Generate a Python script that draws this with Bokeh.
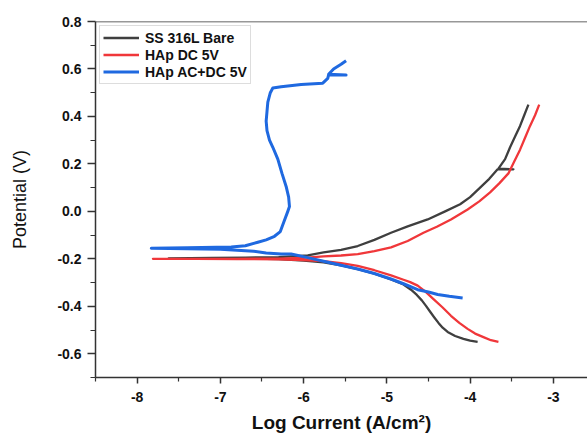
from bokeh.plotting import figure
from bokeh.models import FixedTicker, Span, Range1d
from bokeh.embed import file_html
from bokeh.resources import INLINE

# ---- data (log current, potential) ----
bare_x = [-3.91, -4.00, -4.08, -4.18, -4.27, -4.33, -4.38, -4.43, -4.48, -4.53, -4.58, -4.64, -4.71, -4.80, -4.95, -5.15, -5.35, -5.55, -5.76, -6.0, -6.3, -6.7, -7.1, -7.62,
          -7.1, -6.7, -6.3, -6.15, -5.95, -5.76, -5.55, -5.35, -5.15, -4.95, -4.75, -4.51, -4.30, -4.12, -4.00, -3.88, -3.77, -3.67, -3.48, -3.66, -3.58, -3.52, -3.46, -3.40, -3.35, -3.30]
bare_y = [-0.55, -0.545, -0.537, -0.525, -0.508, -0.49, -0.47, -0.447, -0.423, -0.398, -0.375, -0.352, -0.33, -0.308, -0.287, -0.262, -0.243, -0.228, -0.215, -0.207, -0.201, -0.199, -0.198, -0.198,
          -0.196, -0.195, -0.193, -0.19, -0.185, -0.173, -0.162, -0.146, -0.12, -0.09, -0.063, -0.034, 0.0, 0.03, 0.06, 0.10, 0.137, 0.177, 0.177, 0.18, 0.22, 0.27, 0.315, 0.36, 0.405, 0.45]

dc_x = [-3.66, -3.75, -3.84, -3.94, -4.03, -4.13, -4.23, -4.33, -4.44, -4.54, -4.63, -4.72, -4.80, -4.95, -5.15, -5.35, -5.55, -5.76, -6.0, -6.3, -6.8, -7.3, -7.81,
        -7.3, -6.8, -6.3, -6.0, -5.76, -5.55, -5.35, -5.15, -4.95, -4.75, -4.56, -4.40, -4.23, -4.03, -3.89, -3.76, -3.65, -3.54, -3.47, -3.40, -3.34, -3.28, -3.22, -3.17]
dc_y = [-0.55, -0.543, -0.53, -0.515, -0.495, -0.47, -0.44, -0.405, -0.37, -0.337, -0.313, -0.298, -0.288, -0.27, -0.248, -0.23, -0.218, -0.21, -0.205, -0.202, -0.201, -0.20, -0.20,
        -0.20, -0.20, -0.199, -0.196, -0.19, -0.186, -0.18, -0.168, -0.152, -0.125, -0.09, -0.065, -0.034, 0.008, 0.042, 0.08, 0.118, 0.16, 0.21, 0.26, 0.31, 0.36, 0.405, 0.45]

acdc_x = [-4.09, -4.25, -4.39, -4.50, -4.63, -4.80, -4.95, -5.15, -5.35, -5.55, -5.76, -5.95, -6.15, -6.27, -6.45, -6.6, -7.0, -7.4, -7.83,
          -7.4, -6.87, -6.70, -6.55, -6.45, -6.35, -6.28, -6.24, -6.19, -6.17, -6.18, -6.21, -6.26, -6.31, -6.37, -6.41, -6.44, -6.45, -6.44, -6.43, -6.40, -6.37,
          -6.27, -6.03, -5.77, -5.71, -5.70, -5.49, -5.70, -5.64, -5.55, -5.49]
acdc_y = [-0.365, -0.358, -0.35, -0.34, -0.33, -0.305, -0.285, -0.262, -0.243, -0.227, -0.21, -0.195, -0.18, -0.18, -0.175, -0.168, -0.16, -0.157, -0.155,
          -0.153, -0.15, -0.145, -0.13, -0.12, -0.105, -0.085, -0.047, 0.0, 0.02, 0.06, 0.105, 0.16, 0.22, 0.27, 0.30, 0.34, 0.38, 0.42, 0.46, 0.50, 0.52,
          0.525, 0.535, 0.54, 0.56, 0.575, 0.575, 0.578, 0.60, 0.62, 0.635]

series_labels = ["SS 316L Bare", "HAp DC 5V", "HAp AC+DC 5V"]
series_colors = ["#3f3f3f", "#f0373a", "#1f69e0"]

x_ticks = [-8, -7, -6, -5, -4, -3]
x_minor = [-8.5, -7.5, -6.5, -5.5, -4.5, -3.5, -2.5]
y_ticks = [-0.6, -0.4, -0.2, 0.0, 0.2, 0.4, 0.6, 0.8]
y_minor = [-0.7, -0.5, -0.3, -0.1, 0.1, 0.3, 0.5, 0.7]

p = figure(width=587, height=435, output_backend="svg", toolbar_location=None,
           x_range=Range1d(-8.5, -2.59), y_range=Range1d(-0.7, 0.8),
           min_border_left=95, min_border_right=0, min_border_top=21, min_border_bottom=56)
p.grid.visible = False
p.outline_line_color = None
p.background_fill_color = "white"
p.border_fill_color = "white"

p.line(bare_x, bare_y, color=series_colors[0], line_width=2.3, legend_label=series_labels[0], line_join="round")
p.line(dc_x, dc_y, color=series_colors[1], line_width=2.3, legend_label=series_labels[1], line_join="round")
p.line(acdc_x, acdc_y, color=series_colors[2], line_width=3.0, legend_label=series_labels[2], line_join="round")

top = Span(location=0.8, dimension="width", line_color="#333333", line_width=1.5)
p.add_layout(top)

for ax in (p.xaxis[0], p.yaxis[0]):
    ax.axis_line_color = "#333333"
    ax.axis_line_width = 1.5
    ax.major_tick_line_color = "#333333"
    ax.minor_tick_line_color = "#333333"
    ax.major_tick_line_width = 1.5
    ax.minor_tick_line_width = 1.2
    ax.major_tick_in = 0
    ax.minor_tick_in = 0
    ax.major_label_text_font = "Liberation Sans"
    ax.major_label_text_font_style = "bold"
    ax.major_label_text_font_size = "14px"
    ax.major_label_text_color = "#111111"
    ax.axis_label_text_color = "#111111"
    ax.axis_label_text_font = "Liberation Sans"

p.yaxis.major_tick_out = 8
p.yaxis.minor_tick_out = 5
p.xaxis.major_tick_out = 6
p.xaxis.minor_tick_out = 4

p.xaxis.ticker = FixedTicker(ticks=x_ticks, minor_ticks=x_minor)
p.yaxis.ticker = FixedTicker(ticks=y_ticks, minor_ticks=y_minor)
p.xaxis.major_label_overrides = {t: str(t) for t in x_ticks}
p.yaxis.major_label_overrides = {t: f"{t:.1f}" for t in y_ticks}
p.xaxis.major_label_standoff = 8
p.yaxis.major_label_standoff = 6

p.xaxis.axis_label = "Log Current (A/cm²)"
p.xaxis.axis_label_text_font_style = "bold"
p.xaxis.axis_label_text_font_size = "19px"
p.xaxis.axis_label_standoff = 7
p.yaxis.axis_label = "Potential (V)"
p.yaxis.axis_label_text_font_style = "normal"
p.yaxis.axis_label_text_font_size = "18px"
p.yaxis.axis_label_standoff = 24

lg = p.legend[0]
lg.location = "top_left"
lg.margin = 4
lg.padding = 3
lg.spacing = 0
lg.glyph_width = 36
lg.glyph_height = 17
lg.label_height = 17
lg.label_standoff = 6
lg.label_text_font = "Liberation Sans"
lg.label_text_font_style = "bold"
lg.label_text_font_size = "14px"
lg.label_text_color = "#111111"
lg.border_line_color = "#bbbbbb"
lg.border_line_width = 1
lg.background_fill_alpha = 1.0

open("out.html", "w").write(file_html(p, INLINE))
